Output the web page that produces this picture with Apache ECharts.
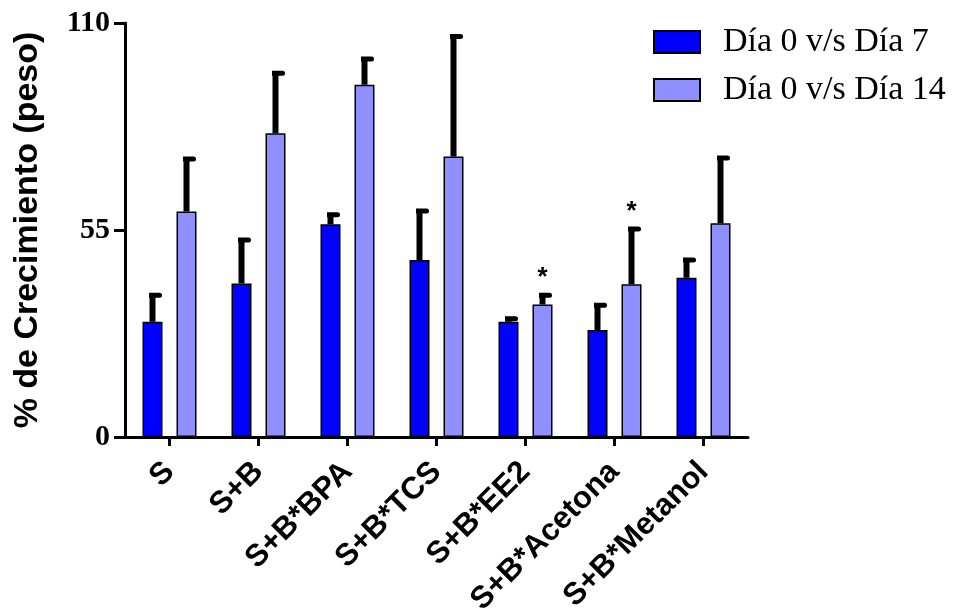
<!DOCTYPE html>
<html>
<head>
<meta charset="utf-8">
<script src="https://cdn.jsdelivr.net/npm/echarts@6/dist/echarts.min.js"></script>
<style>html,body{margin:0;padding:0;background:#fff}#c{width:957px;height:609px}</style>
</head>
<body>
<div id="c"></div>
<script>
const categories = ['S', 'S+B', 'S+B*BPA', 'S+B*TCS', 'S+B*EE2', 'S+B*Acetona', 'S+B*Metanol'];
const seriesNames = ['Día 0 v/s Día 7', 'Día 0 v/s Día 14'];
const dia7 = [30.6, 40.8, 56.5, 47.0, 30.6, 28.4, 42.3];
const dia7Sd = [7.7, 12.2, 3.2, 13.7, 1.5, 7.3, 5.4];
const dia14 = [59.9, 80.7, 93.6, 74.5, 35.2, 40.6, 56.8];
const dia14Sd = [14.6, 16.6, 7.5, 32.6, 3.1, 15.3, 18.0];
const dia7Marks = ['', '', '', '', '', '', ''];
const dia14Marks = ['', '', '', '', '*', '*', ''];
const yTicks = [0, 55, 110];

const BAR_W = 20;
const GAP = 0.7;
const OFF = (BAR_W + BAR_W * GAP) / 2;

function errSeries(means, sds, marks, offset) {
  return {
    type: 'custom',
    z: 5,
    silent: true,
    data: means.map((m, i) => [i, m, m + sds[i], marks[i]]),
    renderItem: function (params, api) {
      const i = api.value(0);
      const base = api.coord([i, api.value(1)]);
      const top = api.coord([i, api.value(2)]);
      const x = base[0] + offset;
      const children = [
        { type: 'line', shape: { x1: x, y1: base[1], x2: x, y2: top[1] + 2 },
          style: { stroke: '#000', lineWidth: 6 } },
        { type: 'rect', shape: { x: x - 3.5, y: top[1], width: 13, height: 5, r: [0, 2.5, 2.5, 0] },
          style: { fill: '#000' } }
      ];
      const mk = marks[i];
      if (mk) {
        children.push({ type: 'text', style: { text: mk, x: x, y: top[1] - 15,
          align: 'center', verticalAlign: 'middle', fill: '#000',
          font: 'bold 26px "Liberation Sans", Arial, sans-serif' } });
      }
      return { type: 'group', children: children };
    }
  };
}

const chart = echarts.init(document.getElementById('c'));
chart.setOption({
  animation: false,
  backgroundColor: '#fff',
  grid: { left: 125, right: 209, top: 23, bottom: 172, containLabel: false, outerBoundsMode: 'none' },
  legend: {
    data: seriesNames,
    orient: 'vertical',
    left: 648, top: 20,
    itemWidth: 46, itemHeight: 22, itemGap: 14,
    icon: 'rect',
    textStyle: { fontFamily: '"Liberation Serif", "Times New Roman", serif', fontSize: 34,
      color: '#000', padding: [0, 0, 0, 18] }
  },
  xAxis: {
    type: 'category',
    data: categories,
    axisLine: { lineStyle: { color: '#000', width: 3 } },
    axisTick: { show: true, alignWithLabel: true, length: 9, lineStyle: { color: '#000', width: 3 } },
    axisLabel: { rotate: 45, margin: 30, color: '#000', fontWeight: 'bold', fontSize: 31,
      fontFamily: '"Liberation Sans", Arial, sans-serif', interval: 0 }
  },
  yAxis: {
    type: 'value',
    min: 0, max: 110, interval: 55,
    name: '% de Crecimiento (peso)',
    nameLocation: 'middle',
    nameGap: 80,
    nameTextStyle: { color: '#000', fontWeight: 'bold', fontSize: 34, fontFamily: '"Liberation Sans", Arial, sans-serif' },
    axisLine: { show: true, lineStyle: { color: '#000', width: 3 } },
    axisTick: { show: true, inside: false, length: 11, lineStyle: { color: '#000', width: 3 } },
    splitLine: { show: false },
    axisLabel: { margin: 15, color: '#000', fontWeight: 'bold', fontSize: 30,
      fontFamily: '"Liberation Serif", "Times New Roman", serif',
      formatter: v => yTicks.includes(v) ? String(v) : '' }
  },
  series: [
    { name: seriesNames[0], type: 'bar', data: dia7, barWidth: BAR_W, barGap: (GAP * 100) + '%',
      itemStyle: { color: '#0000ff', borderColor: '#000', borderWidth: 1.5 } },
    { name: seriesNames[1], type: 'bar', data: dia14, barWidth: BAR_W, barGap: (GAP * 100) + '%',
      itemStyle: { color: '#8f8fff', borderColor: '#000', borderWidth: 1.5 } },
    errSeries(dia7, dia7Sd, dia7Marks, -OFF),
    errSeries(dia14, dia14Sd, dia14Marks, OFF)
  ]
});
</script>
</body>
</html>
